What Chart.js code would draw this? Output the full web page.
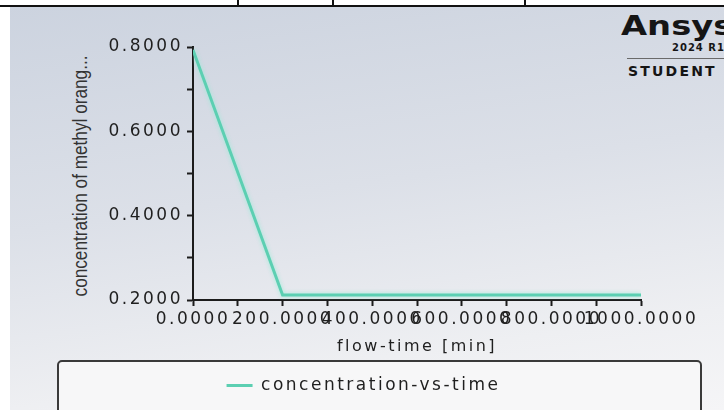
<!DOCTYPE html>
<html>
<head>
<meta charset="utf-8">
<script src="https://cdn.jsdelivr.net/npm/chart.js@4.4.1/dist/chart.umd.min.js"></script>
<style>
  html, body { margin: 0; padding: 0; background: #fff; }
  #wrap { position: relative; width: 724px; height: 410px; overflow: hidden; background: #fff; }
  #panel { position: absolute; left: 10px; top: 6px; right: 0; bottom: 0;
    background: linear-gradient(172deg, #ccd3df 0%, #dce0e8 45%, #eeeff2 80%, #f5f5f7 100%); }
  #topline { position: absolute; left: 0; top: 5px; width: 724px; height: 2px; background: #111; }
  .vt { position: absolute; top: 0; width: 2px; height: 6px; background: #111; }
  #legbox { position: absolute; left: 57px; top: 360px; width: 641px; height: 70px;
    border: 2px solid #3a3a3a; border-radius: 5px; background: #f7f7f8; }
  canvas { position: absolute; left: 0; top: 0; }
  #ytitle { position: absolute; left: 80px; top: 176px; transform: translate(-50%, -50%) rotate(-90deg) scaleX(0.86);
    white-space: nowrap; font: 20px "Liberation Sans", Arial, sans-serif; color: #333; }
  .logo { position: absolute; white-space: nowrap; font-family: "DejaVu Sans", sans-serif; font-weight: bold; color: #151515; }
  #ansys { left: 621px; top: 12px; font-size: 27px; line-height: 1; transform: scaleX(1.25); transform-origin: left top; }
  #rel { left: 672px; top: 42px; font-size: 10px; letter-spacing: 1px; }
  #rule { position: absolute; left: 627px; top: 58px; width: 97px; height: 1px; background: #6a6a6a; }
  #student { left: 628px; top: 63px; font-size: 14px; letter-spacing: 2.2px; }
</style>
</head>
<body>
<div id="wrap">
  <div id="panel"></div>
  <div id="topline"></div>
  <div class="vt" style="left:237px"></div>
  <div class="vt" style="left:332px"></div>
  <div class="vt" style="left:524px"></div>
  <div id="legbox"></div>
  <div class="logo" id="ansys">Ansys</div>
  <div class="logo" id="rel">2024 R1</div>
  <div id="rule"></div>
  <div class="logo" id="student">STUDENT</div>
  <div id="ytitle">concentration of methyl orang...</div>
  <canvas id="c" width="724" height="410"></canvas>
</div>
<script>
// flow-time [min] and concentration
const flowTime = [0, 200, 400, 600, 800, 1000];
const concentration = [0.793, 0.212, 0.212, 0.212, 0.212, 0.212];
const seriesName = "concentration-vs-time";
const xTitle = "flow-time [min]";

const tickFont = { family: "DejaVu Sans", size: 17 };
const ink = "#1f1f1f";
const axisInk = "#1c1c1c";

// wide, spaced lettering like the Ansys plot
const spacing = {
  id: "spacing",
  beforeUpdate(chart) { chart.ctx.letterSpacing = "2.5px"; },
  beforeDraw(chart) { chart.ctx.letterSpacing = "2.5px"; },
  beforeDatasetsDraw(chart) {
    const ctx = chart.ctx;
    ctx.save();
    ctx.shadowColor = "rgba(150,235,215,0.9)";
    ctx.shadowBlur = 4;
  },
  afterDatasetsDraw(chart) { chart.ctx.restore(); }
};

const axisGrid = { drawOnChartArea: false, drawTicks: true, tickLength: 6, tickColor: axisInk, tickWidth: 2 };

new Chart(document.getElementById("c"), {
  type: "line",
  data: {
    datasets: [{
      label: seriesName,
      data: flowTime.map((x, i) => ({ x: x, y: concentration[i] })),
      borderColor: "#5ccfb2",
      backgroundColor: "#5ccfb2",
      borderWidth: 3,
      pointRadius: 0,
      pointStyle: "line",
      tension: 0
    }]
  },
  options: {
    responsive: false,
    animation: false,
    layout: { padding: { left: 86, right: 83, top: 47, bottom: 6 } },
    plugins: {
      legend: {
        position: "bottom",
        labels: { usePointStyle: true, pointStyleWidth: 26, color: ink, font: { family: "DejaVu Sans", size: 17 }, padding: 15 }
      },
      tooltip: { enabled: false }
    },
    scales: {
      x: {
        type: "linear", min: 0, max: 1000,
        afterFit(s) { s.height = 62; },
        border: { color: axisInk, width: 2 },
        grid: axisGrid,
        ticks: {
          stepSize: 100, autoSkip: false, maxRotation: 0, padding: 3, color: ink, font: tickFont,
          callback: (v, i) => i % 2 === 0 ? v.toFixed(4) : ""
        },
        title: { display: true, text: xTitle, color: ink, font: { family: "DejaVu Sans", size: 16 }, padding: { top: 4, bottom: 6 } }
      },
      y: {
        type: "linear", min: 0.2, max: 0.8,
        afterFit(s) { s.width = 107; },
        border: { color: axisInk, width: 2 },
        grid: axisGrid,
        ticks: {
          stepSize: 0.1, autoSkip: false, padding: 4, color: ink, font: tickFont,
          callback: (v, i) => i % 2 === 0 ? v.toFixed(4) : ""
        }
      }
    }
  },
  plugins: [spacing]
});
</script>
</body>
</html>
